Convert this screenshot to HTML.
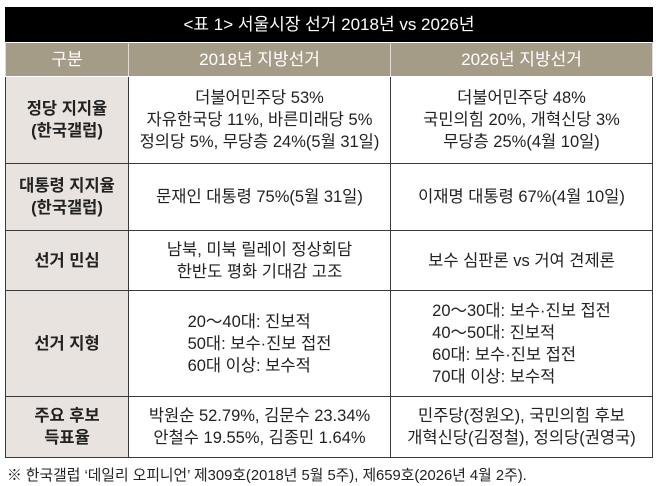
<!DOCTYPE html>
<html><head><meta charset="utf-8"><style>
body{margin:0;width:658px;height:486px;background:#fff;font-family:"Liberation Sans","Noto Sans CJK KR",sans-serif;overflow:hidden}
.t{position:absolute;left:5px;top:7px;width:648px;height:35px;background:#000;color:#fff;font-size:17px;text-align:center;line-height:35px}
table{position:absolute;left:5px;top:42px;width:648px;border-collapse:collapse;font-size:16.5px;color:#222}
td{border:1.5px solid #3a3a3a;text-align:center;line-height:22px;padding:0}
td.h{background:#a59c88;color:#fff;font-size:17px;border-color:#fff #e0dcd3}
td.l{background:#e8e3de;font-weight:bold;width:122px}
.c2{width:261px}
.L{display:inline-block;text-align:left}
.f{position:absolute;left:7px;top:464px;font-size:14.8px;color:#222}
</style></head><body>
<div class="t">&lt;표 1&gt; 서울시장 선거 2018년 vs 2026년</div>
<table>
<tr style="height:34px"><td class="h" style="width:122px">구분</td><td class="h c2">2018년 지방선거</td><td class="h">2026년 지방선거</td></tr>
<tr style="height:87px"><td class="l">정당 지지율<br>(한국갤럽)</td><td>더불어민주당 53%<br>자유한국당 11%, 바른미래당 5%<br>정의당 5%, 무당층 24%(5월 31일)</td><td>더불어민주당 48%<br>국민의힘 20%, 개혁신당 3%<br>무당층 25%(4월 10일)</td></tr>
<tr style="height:67px"><td class="l">대통령 지지율<br>(한국갤럽)</td><td>문재인 대통령 75%(5월 31일)</td><td>이재명 대통령 67%(4월 10일)</td></tr>
<tr style="height:60px"><td class="l">선거 민심</td><td>남북, 미북 릴레이 정상회담<br>한반도 평화 기대감 고조</td><td>보수 심판론 vs 거여 견제론</td></tr>
<tr style="height:106px"><td class="l">선거 지형</td><td><span class="L">20～40대: 진보적<br>50대: 보수·진보 접전<br>60대 이상: 보수적</span></td><td><span class="L">20～30대: 보수·진보 접전<br>40～50대: 진보적<br>60대: 보수·진보 접전<br>70대 이상: 보수적</span></td></tr>
<tr style="height:61px"><td class="l">주요 후보<br>득표율</td><td>박원순 52.79%, 김문수 23.34%<br>안철수 19.55%, 김종민 1.64%</td><td>민주당(정원오), 국민의힘 후보<br>개혁신당(김정철), 정의당(권영국)</td></tr>
</table>
<div class="f">※ 한국갤럽 ‘데일리 오피니언’ 제309호(2018년 5월 5주), 제659호(2026년 4월 2주).</div>
</body></html>
